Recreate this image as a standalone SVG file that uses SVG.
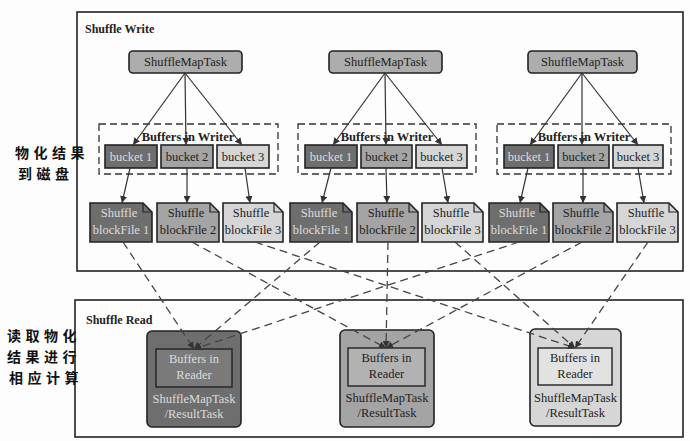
<svg xmlns="http://www.w3.org/2000/svg" width="690" height="441" viewBox="0 0 690 441" font-family="'Liberation Serif', serif">
<defs>
<marker id="ah" viewBox="0 0 10 10" refX="10" refY="5" markerWidth="7" markerHeight="7" orient="auto-start-reverse" markerUnits="userSpaceOnUse">
<path d="M0,0 L10,5 L0,10 Z" fill="#333"/>
</marker>
<style>
text{font-family:'Liberation Serif',serif;font-size:12.5px;text-anchor:middle;fill:#222}
.lbl{font-weight:bold;text-anchor:start;font-size:12px}
.hand{font-family:'Noto Sans CJK SC',sans-serif;font-size:14px;font-weight:bold;text-anchor:start;fill:#111;letter-spacing:4.5px}
.frame{fill:none;stroke:#222;stroke-width:1.6}
.task{fill:#adadad;stroke:#222;stroke-width:1.6}
.buf{fill:none;stroke:#333;stroke-width:1.3;stroke-dasharray:7,4}
.d{fill:#6e6e6e;stroke:#222;stroke-width:1.6}
.m{fill:#a4a4a4;stroke:#222;stroke-width:1.6}
.l{fill:#d6d6d6;stroke:#222;stroke-width:1.6}
.dt{fill:#dcdcdc}
.fold{fill:none;stroke:#222;stroke-width:1.2}
.arr{stroke:#333;stroke-width:1.2;fill:none;marker-end:url(#ah)}
.dash{stroke:#444;stroke-width:1.3;fill:none;stroke-dasharray:8,5;marker-end:url(#ah)}
</style>
</defs>
<rect width="690" height="441" fill="#fdfdfd"/>

<g id="shuffle-write">
<rect class="frame" x="77" y="12" width="606" height="259"/>
<text class="lbl" x="85" y="33">Shuffle Write</text>
</g>
<g id="shuffle-read">
<rect class="frame" x="75" y="300" width="608" height="137"/>
<text class="lbl" x="86" y="324">Shuffle Read</text>
</g>

<g id="note-write">
<text class="hand" x="15" y="158">物化结果</text>
<text class="hand" x="18" y="179">到磁盘</text>
</g>
<g id="note-read">
<text class="hand" x="7" y="341">读取物化</text>
<text class="hand" x="7" y="362">结果进行</text>
<text class="hand" x="9" y="383">相应计算</text>
</g>

<!-- Group 1 -->
<g id="task1"><rect class="task" x="129" y="51" width="113" height="22" rx="4"/><text x="185.5" y="66">ShuffleMapTask</text></g>
<g id="buffers1"><rect class="buf" x="99" y="124" width="179" height="50"/><text x="188" y="141" font-weight="bold">Buffers in Writer</text></g>
<g id="bucket1-1"><rect class="d" x="105" y="145" width="52" height="23"/><text class="dt" x="131" y="161">bucket 1</text></g>
<g id="bucket1-2"><rect class="m" x="161" y="145" width="52" height="23"/><text x="187" y="161">bucket 2</text></g>
<g id="bucket1-3"><rect class="l" x="217" y="145" width="52" height="23"/><text x="243" y="161">bucket 3</text></g>
<g id="file1-1"><path class="d" d="M90,203 H143 L152,212 V242 H90 Z"/><path class="fold" d="M143,203 V212 H152"/><text class="dt" x="119" y="217">Shuffle</text><text class="dt" x="121" y="234">blockFile 1</text></g>
<g id="file1-2"><path class="m" d="M157,203 H210 L219,212 V242 H157 Z"/><path class="fold" d="M210,203 V212 H219"/><text x="186" y="217">Shuffle</text><text x="188" y="234">blockFile 2</text></g>
<g id="file1-3"><path class="l" d="M223,203 H274 L283,212 V242 H223 Z"/><path class="fold" d="M274,203 V212 H283"/><text x="251" y="217">Shuffle</text><text x="253" y="234">blockFile 3</text></g>

<!-- Group 2 -->
<g id="task2"><rect class="task" x="329" y="51" width="113" height="22" rx="4"/><text x="385.5" y="66">ShuffleMapTask</text></g>
<g id="buffers2"><rect class="buf" x="298" y="124" width="178" height="50"/><text x="387" y="141" font-weight="bold">Buffers in Writer</text></g>
<g id="bucket2-1"><rect class="d" x="305" y="145" width="52" height="23"/><text class="dt" x="331" y="161">bucket 1</text></g>
<g id="bucket2-2"><rect class="m" x="361" y="145" width="51" height="23"/><text x="386.5" y="161">bucket 2</text></g>
<g id="bucket2-3"><rect class="l" x="416" y="145" width="51" height="23"/><text x="441.5" y="161">bucket 3</text></g>
<g id="file2-1"><path class="d" d="M290,203 H343 L352,212 V242 H290 Z"/><path class="fold" d="M343,203 V212 H352"/><text class="dt" x="319" y="217">Shuffle</text><text class="dt" x="321" y="234">blockFile 1</text></g>
<g id="file2-2"><path class="m" d="M357,203 H409 L418,212 V242 H357 Z"/><path class="fold" d="M409,203 V212 H418"/><text x="386" y="217">Shuffle</text><text x="387.5" y="234">blockFile 2</text></g>
<g id="file2-3"><path class="l" d="M422,203 H474 L483,212 V242 H422 Z"/><path class="fold" d="M474,203 V212 H483"/><text x="451" y="217">Shuffle</text><text x="452.5" y="234">blockFile 3</text></g>

<!-- Group 3 -->
<g id="task3"><rect class="task" x="528" y="51" width="109" height="22" rx="4"/><text x="582.5" y="66">ShuffleMapTask</text></g>
<g id="buffers3"><rect class="buf" x="497" y="124" width="174" height="50"/><text x="584" y="141" font-weight="bold">Buffers in Writer</text></g>
<g id="bucket3-1"><rect class="d" x="504" y="145" width="50" height="23"/><text class="dt" x="529" y="161">bucket 1</text></g>
<g id="bucket3-2"><rect class="m" x="558" y="145" width="51" height="23"/><text x="583.5" y="161">bucket 2</text></g>
<g id="bucket3-3"><rect class="l" x="613" y="145" width="50" height="23"/><text x="638" y="161">bucket 3</text></g>
<g id="file3-1"><path class="d" d="M489,203 H540 L549,212 V242 H489 Z"/><path class="fold" d="M540,203 V212 H549"/><text class="dt" x="517" y="217">Shuffle</text><text class="dt" x="519" y="234">blockFile 1</text></g>
<g id="file3-2"><path class="m" d="M553,203 H604 L613,212 V242 H553 Z"/><path class="fold" d="M604,203 V212 H613"/><text x="581" y="217">Shuffle</text><text x="583" y="234">blockFile 2</text></g>
<g id="file3-3"><path class="l" d="M617,203 H669 L678,212 V242 H617 Z"/><path class="fold" d="M669,203 V212 H678"/><text x="646" y="217">Shuffle</text><text x="647.5" y="234">blockFile 3</text></g>

<!-- Readers -->
<g id="reader1"><rect class="d" x="147" y="331" width="94" height="96" rx="5"/><rect x="156" y="349" width="76" height="38" fill="#7a7a7a" stroke="#222" stroke-width="1.4"/><text class="dt" x="194" y="363">Buffers in</text><text class="dt" x="194" y="379">Reader</text><text class="dt" x="194" y="403">ShuffleMapTask</text><text class="dt" x="194" y="418">/ResultTask</text></g>
<g id="reader2"><rect class="m" x="340" y="330" width="94" height="97" rx="5"/><rect x="348" y="348" width="77" height="38" fill="#b2b2b2" stroke="#222" stroke-width="1.4"/><text x="386.5" y="362">Buffers in</text><text x="386.5" y="378">Reader</text><text x="387" y="402">ShuffleMapTask</text><text x="387" y="417">/ResultTask</text></g>
<g id="reader3"><rect class="l" x="530" y="329" width="91" height="97" rx="5"/><rect x="538" y="348" width="74" height="37" fill="#e2e2e2" stroke="#222" stroke-width="1.4"/><text x="575" y="362">Buffers in</text><text x="575" y="378">Reader</text><text x="575.5" y="402">ShuffleMapTask</text><text x="575.5" y="417">/ResultTask</text></g>

<g id="connectors">
<path class="arr" d="M185,73 L133,145"/>
<path class="arr" d="M185,73 L186,145"/>
<path class="arr" d="M185,73 L242,145"/>
<path class="arr" d="M385,73 L333,145"/>
<path class="arr" d="M385,73 L386,145"/>
<path class="arr" d="M385,73 L442,145"/>
<path class="arr" d="M582,73 L530,145"/>
<path class="arr" d="M582,73 L582,145"/>
<path class="arr" d="M582,73 L638,145"/>
<path class="arr" d="M130,168 L122,203"/>
<path class="arr" d="M187,168 L187,203"/>
<path class="arr" d="M245,168 L250,203"/>
<path class="arr" d="M331,168 L322,203"/>
<path class="arr" d="M386,168 L387,203"/>
<path class="arr" d="M442,168 L448,203"/>
<path class="arr" d="M528,168 L520,203"/>
<path class="arr" d="M583,168 L583,203"/>
<path class="arr" d="M638,168 L644,203"/>
<path class="dash" d="M123,242 L194,349"/>
<path class="dash" d="M320,242 L194,349"/>
<path class="dash" d="M519,242 L194,349"/>
<path class="dash" d="M192,242 L386,348"/>
<path class="dash" d="M388,242 L386,348"/>
<path class="dash" d="M582,242 L386,348"/>
<path class="dash" d="M255,242 L575,348"/>
<path class="dash" d="M455,242 L575,348"/>
<path class="dash" d="M648,242 L575,348"/>
</g>
</svg>
